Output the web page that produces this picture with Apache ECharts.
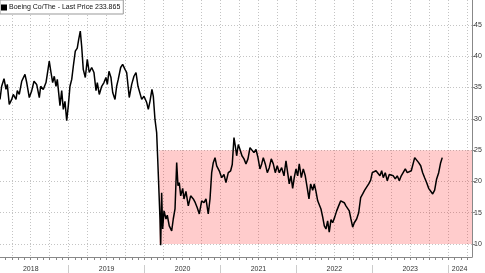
<!DOCTYPE html>
<html><head><meta charset="utf-8">
<script src="https://cdn.jsdelivr.net/npm/echarts@6/dist/echarts.min.js"></script>
<style>html,body{margin:0;padding:0;background:#fff}#c{width:485px;height:273px}</style>
</head><body><div id="c"></div>
<script>
const seriesName = 'Boeing Co/The - Last Price 233.865';
// decimal-year dates
const dates = [
2018.095,2018.117,2018.148,2018.174,2018.191,2018.217,2018.249,2018.270,2018.306,2018.323,2018.349,2018.381,2018.402,2018.424,2018.447,2018.481,2018.513,2018.543,2018.578,2018.613,2018.631,2018.665,2018.701,2018.718,2018.744,2018.767,2018.789,2018.810,2018.833,2018.850,2018.885,2018.908,2018.929,2018.951,2018.974,2018.995,
2019.017,2019.040,2019.061,2019.087,2019.113,2019.132,2019.153,2019.171,2019.192,2019.219,2019.245,2019.271,2019.303,2019.333,2019.360,2019.377,2019.403,2019.435,2019.465,2019.491,2019.509,2019.531,2019.557,2019.580,2019.610,2019.632,2019.653,2019.685,2019.711,2019.742,2019.764,2019.798,2019.830,2019.860,2019.887,2019.913,2019.939,2019.962,2019.992,
2020.028,2020.049,2020.071,2020.097,2020.115,2020.137,2020.159,2020.173,2020.190,2020.203,2020.212,2020.225,2020.238,2020.256,2020.282,2020.299,2020.325,2020.357,2020.378,2020.401,2020.423,2020.440,2020.457,2020.476,2020.502,2020.519,2020.545,2020.576,2020.607,2020.642,2020.668,2020.694,2020.721,2020.752,2020.783,2020.809,2020.839,2020.862,2020.884,2020.905,2020.928,2020.950,2020.984,
2021.016,2021.046,2021.072,2021.103,2021.134,2021.155,2021.178,2021.195,2021.213,2021.235,2021.257,2021.283,2021.310,2021.336,2021.362,2021.389,2021.411,2021.441,2021.468,2021.494,2021.520,2021.543,2021.564,2021.590,2021.617,2021.643,2021.669,2021.696,2021.722,2021.748,2021.775,2021.806,2021.837,2021.863,2021.885,2021.906,2021.929,2021.951,2021.972,2021.995,
2022.017,2022.038,2022.065,2022.091,2022.117,2022.144,2022.166,2022.188,2022.215,2022.236,2022.258,2022.281,2022.302,2022.324,2022.347,2022.368,2022.390,2022.412,2022.433,2022.456,2022.478,2022.505,2022.531,2022.557,2022.584,2022.610,2022.631,2022.653,2022.676,2022.697,2022.719,2022.742,2022.763,2022.794,2022.821,2022.847,2022.874,2022.900,2022.926,2022.953,2022.979,
2023.000,2023.022,2023.049,2023.075,2023.101,2023.124,2023.145,2023.171,2023.198,2023.224,2023.250,2023.277,2023.303,2023.329,2023.356,2023.382,2023.408,2023.435,2023.461,2023.487,2023.514,2023.540,2023.559,2023.585,2023.611,2023.638,2023.664,2023.690,2023.717,2023.743,2023.769,2023.796,2023.822,2023.848,2023.875,2023.901,2023.922
];
const prices = [
33.1,35.2,36.4,34.7,35.5,32.3,33.1,33.9,33.1,34.5,33.9,36.0,35.8,37.1,35.8,33.4,34.5,36.0,35.5,33.4,35.2,34.7,35.8,37.1,39.2,37.4,35.8,36.8,35.2,36.3,32.1,34.5,31.5,32.8,29.7,32.1,
35.2,36.3,38.4,40.8,41.3,42.7,44.0,41.6,37.9,36.6,39.5,37.4,38.2,37.4,34.5,35.8,33.9,35.2,35.8,36.6,35.5,37.6,36.6,34.2,33.1,35.2,36.3,38.2,38.7,37.9,37.4,33.4,35.5,36.8,37.4,35.2,35.0,33.1,33.6,
32.6,31.5,32.8,34.7,33.6,29.9,27.8,23.6,18.2,14.0,9.8,18.2,12.4,15.3,14.0,14.6,12.9,12.1,14.0,15.6,23.0,19.3,19.8,17.7,18.9,17.2,18.4,16.1,17.7,17.2,16.6,15.8,14.8,16.9,16.6,17.2,14.8,17.2,21.4,23.0,23.8,22.5,21.7,
20.6,21.1,19.8,21.4,21.7,22.7,27.0,25.7,24.1,25.9,25.1,24.1,23.6,22.8,23.6,25.4,25.7,24.6,25.1,23.8,22.0,22.8,23.8,22.8,21.4,22.2,23.6,22.8,21.4,22.5,21.4,22.2,20.9,23.3,21.4,19.6,20.9,18.9,20.6,22.0,
20.9,22.8,20.6,22.0,20.9,18.9,17.2,19.6,18.6,19.6,18.4,16.9,17.2,15.6,14.3,12.9,12.4,13.7,11.9,13.9,13.4,14.3,15.3,16.1,16.9,17.2,16.6,16.1,16.4,15.3,14.0,12.7,13.4,14.0,15.0,17.4,18.0,18.6,18.9,19.6,20.2,
21.4,21.1,21.7,21.4,20.9,21.7,20.6,21.4,20.1,21.1,21.4,20.9,20.4,20.9,20.1,20.9,20.6,22.0,21.4,21.1,21.7,21.4,23.8,23.8,23.0,22.5,21.4,20.6,19.8,18.9,18.6,18.0,18.6,20.4,21.4,23.0,23.8
];
const years = [2018, 2019, 2020, 2021, 2022, 2023, 2024];
const yearLabelPos = [2018.5, 2019.5, 2020.5, 2021.5, 2022.5, 2023.5, 2024.15];
const yTicks = [10, 15, 20, 25, 30, 35, 40, 45];
const shadeX = [2020.194, 2024.314];
const shadeY = [10, 25];
const xRange = [2018.095, 2024.314];
const yRange = [7.93, 48.98];

const quarterTicks = [], monthTicks = [];
years.forEach(y => {
  for (let q = 0; q < 4; q++) quarterTicks.push(y + q / 4);
  for (let m = 0; m < 12; m++) monthTicks.push(y + m / 12);
});

const FONT = 'Liberation Sans, Arial, sans-serif';
const chart = echarts.init(document.getElementById('c'), null, {renderer: 'canvas'});
const grid = {left: 0, right: 13, top: 0, bottom: 15, containLabel: false};
const dotted = {show: true, lineStyle: {color: '#c4c4c4', type: [1, 2], width: 1}};
chart.setOption({
  animation: false,
  backgroundColor: '#fff',
  grid: grid,
  legend: {
    left: 0, top: 0,
    data: [{name: seriesName, icon: 'rect'}],
    itemWidth: 6, itemHeight: 6, itemGap: 0,
    padding: [4, 3, 3, 1],
    borderColor: '#999', borderWidth: 1, backgroundColor: '#fff',
    textStyle: {fontSize: 7, color: '#111', fontFamily: FONT, padding: [0, 0, 0, -3]}
  },
  xAxis: [
    { type: 'value', min: xRange[0], max: xRange[1], position: 'bottom',
      axisLine: {show: false}, axisLabel: {show: false},
      axisTick: {show: false, customValues: quarterTicks},
      splitLine: dotted },
    { type: 'value', min: xRange[0], max: xRange[1], position: 'bottom',
      axisLine: {show: true, lineStyle: {color: '#888', width: 1}},
      axisLabel: {show: false},
      axisTick: {show: true, customValues: monthTicks, length: 3, lineStyle: {color: '#888'}},
      splitLine: {show: false} },
    { type: 'value', min: xRange[0], max: xRange[1], position: 'bottom', offset: 8,
      axisLine: {show: false},
      axisTick: {show: true, customValues: years, length: 8, lineStyle: {color: '#ccc'}},
      axisLabel: {show: true, customValues: yearLabelPos, margin: 1, fontSize: 7, color: '#333', fontFamily: FONT,
        formatter: v => String(Math.floor(v))},
      splitLine: {show: false} }
  ],
  yAxis: [
    { type: 'value', min: yRange[0], max: yRange[1], position: 'right',
      axisLine: {show: true, lineStyle: {color: '#888', width: 1}},
      axisTick: {show: true, customValues: yTicks, length: 3, lineStyle: {color: '#888'}},
      axisLabel: {show: true, customValues: yTicks, margin: 2, fontSize: 7, color: '#333', fontFamily: FONT},
      splitLine: dotted }
  ],
  series: [{
    name: seriesName,
    type: 'line',
    xAxisIndex: 0, yAxisIndex: 0,
    data: dates.map((d, i) => [d, prices[i]]),
    showSymbol: false,
    lineStyle: {color: '#000', width: 1.5},
    itemStyle: {color: '#000'},
    z: 3,
    markArea: {
      silent: true,
      itemStyle: {color: 'rgba(255,0,0,0.2)'},
      data: [[{xAxis: shadeX[0], yAxis: shadeY[0]}, {xAxis: shadeX[1], yAxis: shadeY[1]}]]
    }
  }]
});
</script></body></html>
